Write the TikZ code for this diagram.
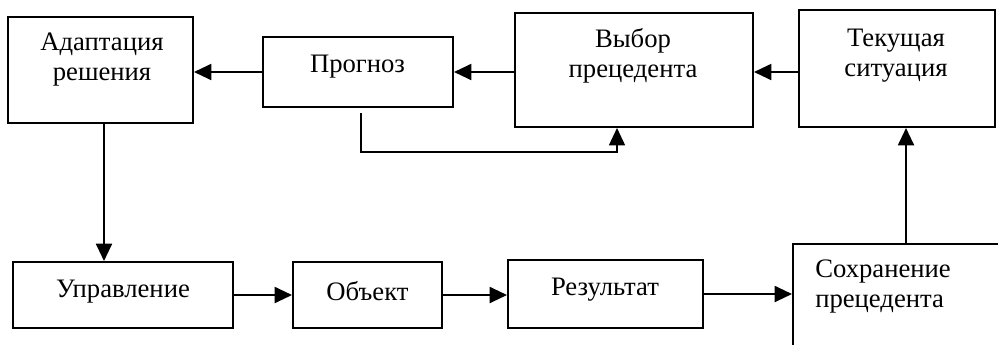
\documentclass[tikz,border=0pt]{standalone}
\usepackage{fontspec}
\setmainfont{Liberation Serif}
\usetikzlibrary{arrows.meta}
\begin{document}
\begin{tikzpicture}[x=0.75pt,y=-0.75pt,
  box/.style={draw,line width=1.5pt,minimum width=#1,inner sep=0pt},
  txt/.style={font=\fontsize{20pt}{22.5pt}\selectfont,align=center,inner sep=0pt},
  arr/.style={line width=1.5pt,-{Triangle[length=13pt,width=12pt]}}]
\path[use as bounding box,clip] (0,0) rectangle (998,344);
\fill[white] (0,0) rectangle (998,344);
% boxes
\node[box=185*0.75pt,minimum height=106*0.75pt] (b1) at (100.5,70) {};
\node[box=190*0.75pt,minimum height=70*0.75pt] (b2) at (358,72) {};
\node[box=238*0.75pt,minimum height=114*0.75pt] (b3) at (634,70) {};
\node[box=196*0.75pt,minimum height=117*0.75pt] (b4) at (897,68.5) {};
\node[box=220*0.75pt,minimum height=66*0.75pt] (b5) at (123,295) {};
\node[box=149*0.75pt,minimum height=66*0.75pt] (b6) at (367.5,295) {};
\node[box=195*0.75pt,minimum height=68*0.75pt] (b7) at (605.5,294) {};
\node[box=230*0.75pt,minimum height=130*0.75pt] (b8) at (908,309) {};
% texts
\node[txt] (t1) at (102,60) {Адаптация\\решения};
\node[txt] (t2) at (357.5,67) {Прогноз};
\node[txt] (t3) at (633,56) {Выбор\\прецедента};
\node[txt] (t4) at (896,56) {Текущая\\ситуация};
\node[txt] (t5) at (123,292) {Управление};
\node[txt] (t6) at (367.5,291) {Объект};
\node[txt] (t7) at (605,290) {Результат};
\node[txt,anchor=west,align=left] (t8) at (815,286) {Сохранение\\прецедента};
% connectors
\draw[arr] (b2.west) -- (b1.east |- b2.west);
\draw[arr] (b3.west |- b2.east) -- (b2.east);
\draw[arr] (b4.west |- b2.east) -- (b3.east |- b2.east);
\coordinate (fb) at (361,113);
\coordinate (fbend) at (617,152);
\draw[arr,line width=1.2pt] (fb) |- (fbend) -- (fbend |- b3.south);
\coordinate (dn) at (104,0);
\draw[arr] (b1.south -| dn) -- (b5.north -| dn);
\draw[arr] (b5.east) -- (b6.west);
\draw[arr] (b6.east) -- (b7.west |- b6.east);
\draw[arr] (b7.east) -- (b8.west |- b7.east);
\coordinate (up) at (906,0);
\draw[arr] (b8.north -| up) -- (b4.south -| up);
\end{tikzpicture}
\end{document}
